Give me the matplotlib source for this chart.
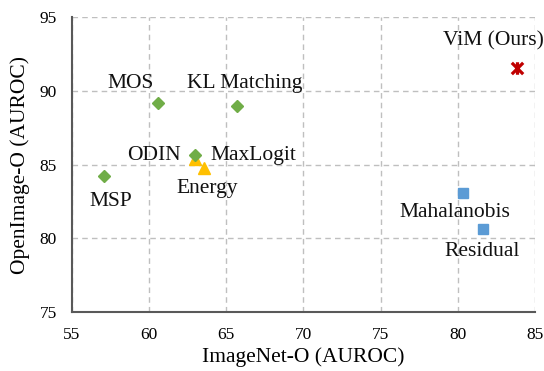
import matplotlib.pyplot as plt
from matplotlib.path import Path

# method scores (ImageNet-O AUROC, OpenImage-O AUROC)
softmax_names = ["MSP", "ODIN", "KL Matching", "MOS"]
softmax_x = [57.1, 63.0, 65.7, 60.6]
softmax_y = [84.2, 85.65, 89.0, 89.2]

logit_names = ["MaxLogit", "Energy"]
logit_x = [63.0, 63.55]
logit_y = [85.4, 84.75]

feature_names = ["Mahalanobis", "Residual"]
feature_x = [80.35, 81.6]
feature_y = [83.1, 80.6]

vim_name = "ViM (Ours)"
vim_x = 83.85
vim_y = 91.55

x_ticks = [55, 60, 65, 70, 75, 80, 85]
y_ticks = [75, 80, 85, 90, 95]

# label offsets in pixels from the marker
offsets = {
    "MSP": (6, -25), "ODIN": (-42, -1), "KL Matching": (8, 22), "MOS": (-28, 19),
    "MaxLogit": (58, 3), "Energy": (3, -20),
    "Mahalanobis": (-8, -20), "Residual": (0, -22),
    "ViM (Ours)": (-24, 27),
}

plt.rcParams['font.family'] = ['Liberation Serif', 'DejaVu Serif']

# excel-like star: an X with a vertical bar
star = Path([(-1, -1), (1, 1), (-1, 1), (1, -1), (0, -1.1), (0, 1.1)],
            [Path.MOVETO, Path.LINETO, Path.MOVETO, Path.LINETO, Path.MOVETO, Path.LINETO])

fig = plt.figure(figsize=(5.44, 3.71), dpi=100)
ax = fig.add_axes([0.1324, 0.159, 0.851, 0.795])

ax.plot(logit_x, logit_y, linestyle="none", marker="^", ms=9, color="#FFC000", zorder=3)
ax.plot(softmax_x, softmax_y, linestyle="none", marker="D", ms=6.5, color="#70AD47", zorder=4)
ax.plot(feature_x, feature_y, linestyle="none", marker="s", ms=7.5, color="#5B9BD5", zorder=3)
ax.plot([vim_x], [vim_y], linestyle="none", marker=star, ms=9, mew=2.3,
        color="#C00000", zorder=3)

all_names = softmax_names + logit_names + feature_names + [vim_name]
all_x = softmax_x + logit_x + feature_x + [vim_x]
all_y = softmax_y + logit_y + feature_y + [vim_y]
for name, x, y in zip(all_names, all_x, all_y):
    ax.annotate(name, (x, y), xytext=offsets[name], textcoords="offset pixels",
                ha="center", va="center", fontsize=15.5, color="#111111")

ax.set_xlim(55, 85)
ax.set_ylim(75, 95)
ax.set_xticks(x_ticks)
ax.set_yticks(y_ticks)
ax.tick_params(length=0, labelsize=12.5)
ax.tick_params(axis="x", pad=11)
ax.tick_params(axis="y", pad=11)
ax.grid(True, linestyle=(0, (4, 3)), color="#BFBFBF", linewidth=1)
ax.set_axisbelow(True)
for s in ["top", "right"]:
    ax.spines[s].set_visible(False)
for s in ["left", "bottom"]:
    ax.spines[s].set_color("#595959")
    ax.spines[s].set_linewidth(1.5)

ax.set_xlabel("ImageNet-O (AUROC)", fontsize=15.5, labelpad=3)
ax.set_ylabel("OpenImage-O (AUROC)", fontsize=15.5, labelpad=7)

fig.savefig("out.png", dpi=100)
